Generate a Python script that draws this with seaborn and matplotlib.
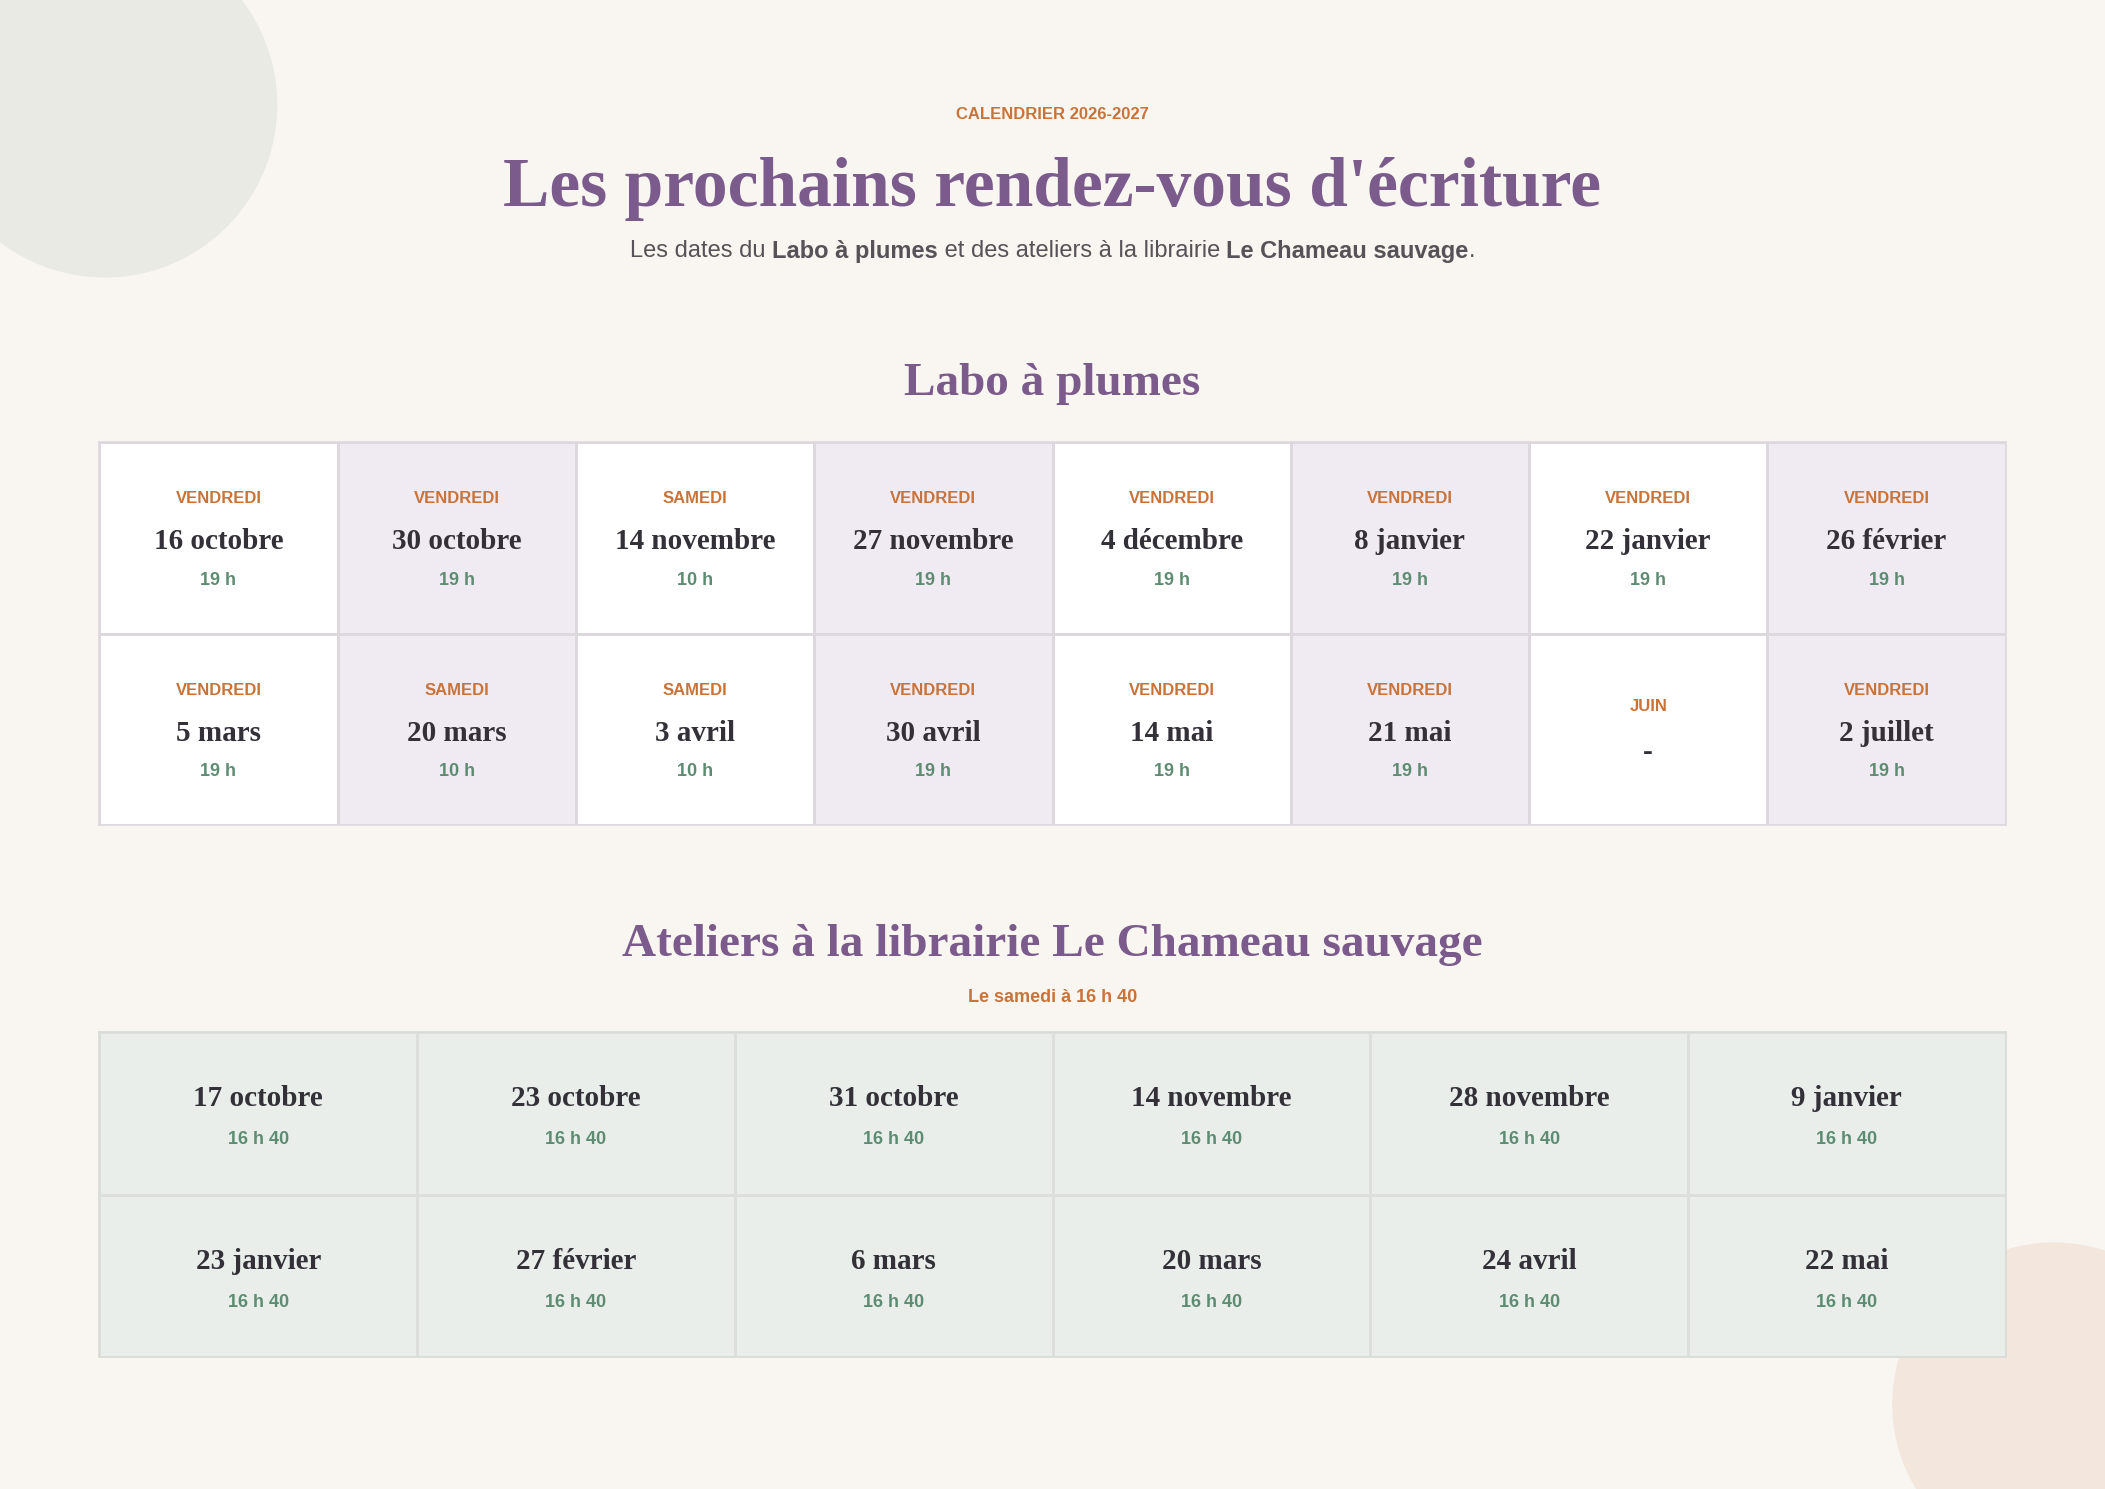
import matplotlib
matplotlib.use("Agg")
import matplotlib.pyplot as plt
import seaborn as sns
import numpy as np
from matplotlib.colors import ListedColormap
from matplotlib.patches import Circle

sns.set_theme(style="white")
plt.rcParams['font.family'] = ['Liberation Sans', 'DejaVu Sans']

# ---- data ----
labo_days = ["VENDREDI", "VENDREDI", "SAMEDI", "VENDREDI", "VENDREDI", "VENDREDI", "VENDREDI", "VENDREDI",
             "VENDREDI", "SAMEDI", "SAMEDI", "VENDREDI", "VENDREDI", "VENDREDI", "JUIN", "VENDREDI"]
labo_dates = ["16 octobre", "30 octobre", "14 novembre", "27 novembre", "4 décembre", "8 janvier", "22 janvier", "26 février",
              "5 mars", "20 mars", "3 avril", "30 avril", "14 mai", "21 mai", "-", "2 juillet"]
labo_times = ["19 h", "19 h", "10 h", "19 h", "19 h", "19 h", "19 h", "19 h",
              "19 h", "10 h", "10 h", "19 h", "19 h", "19 h", "", "19 h"]
atelier_dates = ["17 octobre", "23 octobre", "31 octobre", "14 novembre", "28 novembre", "9 janvier",
                 "23 janvier", "27 février", "6 mars", "20 mars", "24 avril", "22 mai"]
atelier_times = ["16 h 40"] * 12

BG = "#F9F6F1"; PURPLE = "#7B5A8C"; ORANGE = "#C8733A"; GREEN = "#5E8C72"; DARK = "#333038"
SERIF = ['Liberation Serif', 'DejaVu Serif']
W, H = 1568, 1108

fig = plt.figure(figsize=(21.05, 14.89), dpi=100, facecolor=BG)
bg = fig.add_axes([0, 0, 1, 1]); bg.set_xlim(0, W); bg.set_ylim(H, 0); bg.axis("off")
bg.set_facecolor(BG)
bg.add_patch(Circle((78, 78), 128, color="#E9EAE4", zorder=0))
bg.add_patch(Circle((1530, 1045), 120, color="#F3E6DC", zorder=0))

bg.text(784, 85, "CALENDRIER 2026-2027", ha="center", va="center", color=ORANGE, fontsize=12, fontweight="bold")
bg.text(784, 141, "Les prochains rendez-vous d'écriture", ha="center", va="center", color=PURPLE,
        fontsize=50, fontweight="bold", family=SERIF)

# subtitle with mixed weights
parts = [("Les dates du ", "normal"), ("Labo à plumes", "bold"), (" et des ateliers à la librairie ", "normal"),
         ("Le Chameau sauvage", "bold"), (".", "normal")]
r = fig.canvas.get_renderer()
ts = [bg.text(0, 187, p, va="center", ha="left", color="#555258", fontsize=17, fontweight=w) for p, w in parts]
widths = [t.get_window_extent(r).width for t in ts]
total = sum(widths) * W / fig.bbox.width
x = 784 - total / 2
for t, w in zip(ts, widths):
    t.set_x(x); x += w * W / fig.bbox.width

bg.text(784, 286, "Labo à plumes", ha="center", va="center", color=PURPLE, fontsize=34, fontweight="bold", family=SERIF)
bg.text(784, 703, "Ateliers à la librairie Le Chameau sauvage", ha="center", va="center", color=PURPLE,
        fontsize=34, fontweight="bold", family=SERIF)
bg.text(784, 742, "Le samedi à 16 h 40", ha="center", va="center", color=ORANGE, fontsize=13, fontweight="bold")

def grid_axes(x0, y0, x1, y1):
    return fig.add_axes([x0 / W, 1 - y1 / H, (x1 - x0) / W, (y1 - y0) / H])

# Labo grid
ax1 = grid_axes(74, 329, 1494, 614)
pattern = np.array([[c % 2 for c in range(8)] for _ in range(2)])
sns.heatmap(pattern, cmap=ListedColormap(["#FFFFFF", "#F0EAF2"]), cbar=False, linewidths=1,
            linecolor="#DDD8DE", ax=ax1, xticklabels=False, yticklabels=False)
for i in range(16):
    r_, c = divmod(i, 8)
    cx, cy = c + 0.5, r_ + 0.5
    if labo_days[i] == "JUIN":
        ax1.text(cx, cy - 0.12, labo_days[i], ha="center", va="center", color=ORANGE, fontsize=12, fontweight="bold")
        ax1.text(cx, cy + 0.12, labo_dates[i], ha="center", va="center", color=DARK, fontsize=21, fontweight="bold", family=SERIF)
    else:
        ax1.text(cx, cy - 0.205, labo_days[i], ha="center", va="center", color=ORANGE, fontsize=12, fontweight="bold")
        ax1.text(cx, cy + 0.02, labo_dates[i], ha="center", va="center", color=DARK, fontsize=21, fontweight="bold", family=SERIF)
        ax1.text(cx, cy + 0.22, labo_times[i], ha="center", va="center", color=GREEN, fontsize=13, fontweight="bold")

# Ateliers grid
ax2 = grid_axes(74, 768, 1494, 1010)
sns.heatmap(np.zeros((2, 6)), cmap=ListedColormap(["#E9EEEA"]), cbar=False, linewidths=1,
            linecolor="#DCDFDC", ax=ax2, xticklabels=False, yticklabels=False)
for i in range(12):
    r_, c = divmod(i, 6)
    cx, cy = c + 0.5, r_ + 0.5
    ax2.text(cx, cy - 0.09, atelier_dates[i], ha="center", va="center", color=DARK, fontsize=21, fontweight="bold", family=SERIF)
    ax2.text(cx, cy + 0.16, atelier_times[i], ha="center", va="center", color=GREEN, fontsize=13, fontweight="bold")

for ax, col in ((ax1, "#DDD8DE"), (ax2, "#D8DBD8")):
    for s in ax.spines.values():
        s.set_visible(True); s.set_color(col); s.set_linewidth(1.2)

fig.savefig("out.png", dpi=100, facecolor=BG)
